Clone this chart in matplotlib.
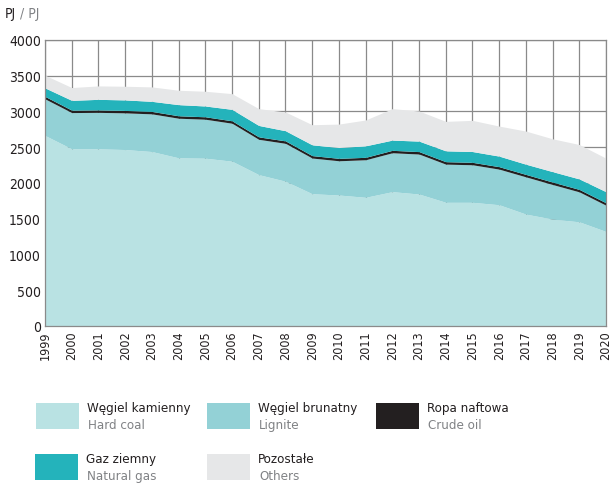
import numpy as np
import matplotlib
matplotlib.use('Agg')
import matplotlib.pyplot as plt
from matplotlib.patches import Rectangle

plt.rcParams['font.family'] = ['DejaVu Sans']
plt.rcParams['font.stretch'] = 'condensed'

years = list(range(1999, 2021))
# PJ
hard_coal = [2665, 2478, 2478, 2468, 2440, 2352, 2347, 2305, 2117, 2025, 1850,
             1832, 1800, 1879, 1846, 1730, 1730, 1696, 1565, 1495, 1457, 1322]
lignite = [512, 507, 510, 513, 527, 554, 545, 531, 494, 530, 499,
           479, 525, 544, 559, 534, 525, 498, 521, 484, 419, 367]
crude_oil = [34] * 22
natural_gas = [119, 137, 148, 147, 141, 156, 151, 160, 160, 142, 151,
               151, 161, 143, 147, 152, 151, 148, 143, 146, 147, 155]
others = [177, 179, 188, 191, 202, 201, 206, 220, 235, 262, 281,
          328, 361, 440, 421, 412, 436, 420, 463, 459, 481, 469]

labels_pl = ['Węgiel kamienny', 'Węgiel brunatny', 'Ropa naftowa', 'Gaz ziemny', 'Pozostałe']
labels_en = ['Hard coal', 'Lignite', 'Crude oil', 'Natural gas', 'Others']
colors = ['#b9e2e3', '#93d1d6', '#231f20', '#24b3bb', '#e6e7e8']

W, H = 615, 485
fig = plt.figure(figsize=(W / 100, H / 100), dpi=100)
ax = fig.add_axes([45 / W, 1 - 327 / H, (606 - 45) / W, (327 - 41) / H])

series = [hard_coal, lignite, crude_oil, natural_gas, others]
base = np.zeros(len(years))
for s, c in zip(series, colors):
    top = base + np.array(s)
    ax.fill_between(years, base, top, color=c, lw=0, zorder=3)
    base = top

ax.set_xlim(1999, 2020)
ax.set_ylim(0, 4000)
ax.set_xticks(years)
ax.set_xticklabels([str(y) for y in years], rotation=90, fontsize=9, color='#231f20')
ax.set_yticks(range(0, 4001, 500))
ax.set_yticklabels([str(v) for v in range(0, 4001, 500)], fontsize=10, color='#231f20')
ax.tick_params(length=0, pad=3)
ax.grid(True, color='#8a8a8a', lw=0.9, zorder=1)
for sp in ax.spines.values():
    sp.set_color('#8a8a8a')
    sp.set_linewidth(0.9)
    sp.set_zorder(4)

fig.text(5 / W, 1 - 14 / H, 'PJ', fontsize=10, color='#231f20', va='center')
fig.text(20 / W, 1 - 14 / H, '/ PJ', fontsize=10, color='#808285', va='center')

# legend drawn by hand
pos = [(36, 404), (207, 404), (376, 404), (35, 455), (207, 455)]
for (px, py), c, pl, en in zip(pos, colors, labels_pl, labels_en):
    fig.patches.append(Rectangle((px / W, 1 - (py + 26) / H), 43 / W, 26 / H,
                                 transform=fig.transFigure, color=c, lw=0))
    fig.text((px + 51) / W, 1 - (py + 5) / H, pl, fontsize=9.5,
             color='#231f20', va='center')
    fig.text((px + 52) / W, 1 - (py + 22) / H, en, fontsize=9.5,
             color='#808285', va='center')

fig.savefig('out.png', dpi=100)
